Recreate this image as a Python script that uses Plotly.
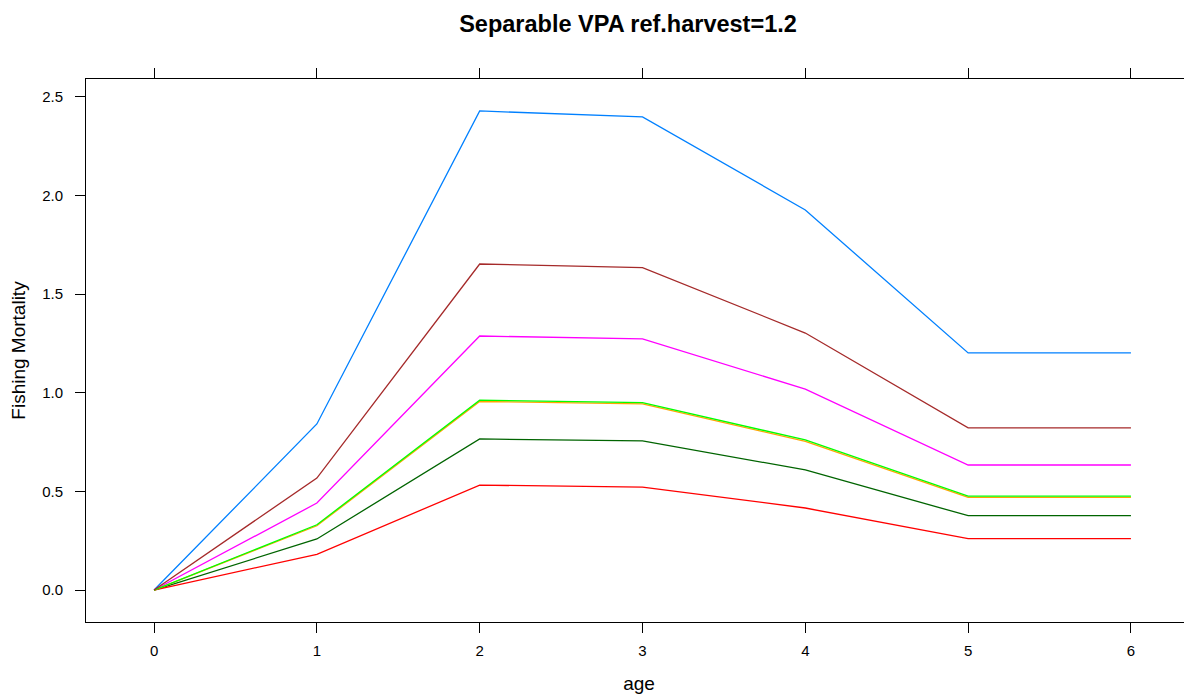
import plotly.graph_objects as go

# ages on the x axis
ages = [0, 1, 2, 3, 4, 5, 6]

# fishing mortality per series, in lattice draw order
f_blue = [0.0, 0.842, 2.429, 2.399, 1.927, 1.202, 1.202]
f_magenta = [0.0, 0.441, 1.288, 1.273, 1.019, 0.634, 0.634]
f_darkgreen = [0.0, 0.259, 0.766, 0.756, 0.609, 0.377, 0.377]
f_red = [0.0, 0.181, 0.532, 0.522, 0.416, 0.261, 0.261]
f_orange = [0.0, 0.326, 0.956, 0.944, 0.754, 0.470, 0.470]
f_green = [0.0, 0.331, 0.963, 0.950, 0.761, 0.476, 0.476]
f_brown = [0.0, 0.568, 1.653, 1.635, 1.303, 0.822, 0.822]

series = [
    (f_blue, "#0080ff"),
    (f_magenta, "#ff00ff"),
    (f_darkgreen, "#006400"),
    (f_red, "#ff0000"),
    (f_orange, "#ffa500"),
    (f_green, "#00ff00"),
    (f_brown, "#a52a2a"),
]

x_ticks = [0, 1, 2, 3, 4, 5, 6]
y_ticks = [0.0, 0.5, 1.0, 1.5, 2.0, 2.5]
y_tick_text = ["0.0", "0.5", "1.0", "1.5", "2.0", "2.5"]

FONT = "Liberation Sans, Arial, sans-serif"

fig = go.Figure()
for vals, col in series:
    fig.add_trace(go.Scatter(x=ages, y=vals, mode="lines",
                             line=dict(color=col, width=1.3), showlegend=False))

x_range = [-0.418, 6.375]
y_range = [-0.162, 2.591]

# the page body adds an 8px offset, margins below account for it
fig.update_layout(
    width=1192, height=697,
    margin=dict(l=78, r=8, t=71, b=83),
    paper_bgcolor="white", plot_bgcolor="white",
    font=dict(family=FONT, size=15, color="black"),
    title=dict(text="<b>Separable VPA ref.harvest=1.2</b>", x=620 / 1192, xref="container",
               xanchor="center", y=1 - 16 / 697, yanchor="middle", font=dict(size=23.5)),
    xaxis=dict(range=x_range, tickvals=x_ticks, ticks="outside", ticklen=10, tickwidth=1,
               tickcolor="black", showline=True, linecolor="black", linewidth=1,
               showgrid=False, zeroline=False, ticklabelstandoff=5,
               title=dict(text="age", font=dict(size=19), standoff=18)),
    xaxis2=dict(range=x_range, tickvals=x_ticks, ticks="outside", ticklen=10, tickwidth=1,
                tickcolor="black", showline=True, linecolor="black", linewidth=1,
                showgrid=False, zeroline=False, showticklabels=False,
                overlaying="x", side="top", matches="x"),
    yaxis=dict(range=y_range, tickvals=y_ticks, ticktext=y_tick_text, ticks="outside",
               ticklen=10, tickwidth=1, tickcolor="black", showline=True,
               linecolor="black", linewidth=1, showgrid=False, zeroline=False,
               ticklabelstandoff=9,
               title=dict(text="Fishing Mortality", font=dict(size=19), standoff=12)),
)

# invisible trace to activate the top axis
fig.add_trace(go.Scatter(x=[ages[0]], y=[f_blue[0]], xaxis="x2", mode="markers",
                         marker=dict(opacity=0), showlegend=False, hoverinfo="skip"))

fig.write_html("out.html")
